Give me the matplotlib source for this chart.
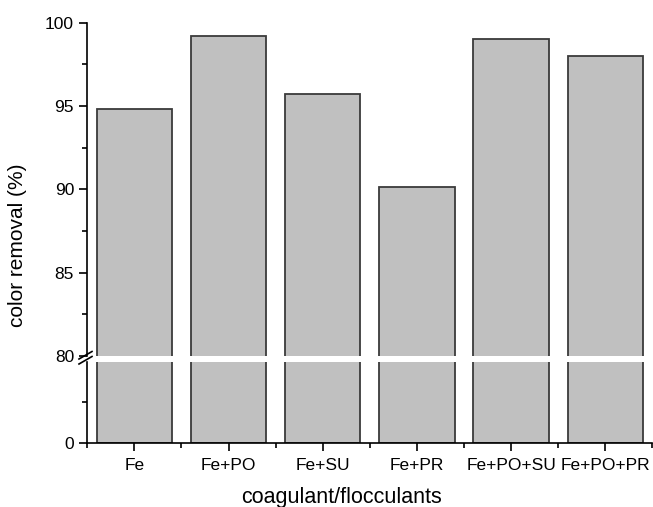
import matplotlib
matplotlib.use('Agg')
import matplotlib.pyplot as plt
from matplotlib.lines import Line2D
from matplotlib.ticker import MultipleLocator, FixedLocator

plt.rcParams['font.family'] = ['Liberation Sans', 'DejaVu Sans']

categories = ['Fe', 'Fe+PO', 'Fe+SU', 'Fe+PR', 'Fe+PO+SU', 'Fe+PO+PR']
color_removal = [94.8, 99.2, 95.7, 90.15, 99.05, 98.0]

W, H = 653, 507
fig = plt.figure(figsize=(W / 100, H / 100), dpi=100)

left, right = 87.3 / W, 652.4 / W
ax_top = fig.add_axes([left, (H - 356) / H, right - left, (356 - 22.7) / H])
ax_bot = fig.add_axes([left, (H - 442.7) / H, right - left, (442.7 - 362) / H])

x = list(range(len(categories)))
bar_kw = dict(width=0.8, color='#c0c0c0', edgecolor='#3a3a3a', linewidth=1.3)
for ax in (ax_top, ax_bot):
    ax.bar(x, color_removal, **bar_kw)
    ax.set_xlim(-0.5, 5.5)
    for s in ('top', 'right'):
        ax.spines[s].set_visible(False)
    ax.spines['left'].set_linewidth(1.2)
    ax.spines['bottom'].set_linewidth(1.2)
    ax.tick_params(which='major', direction='out', length=6, width=1.2,
                   labelsize=12.5, color='black')
    ax.tick_params(which='minor', direction='out', length=3.5, width=1.2)

# upper part 80-100
ax_top.set_ylim(80, 100)
ax_top.yaxis.set_major_locator(MultipleLocator(5))
ax_top.yaxis.set_minor_locator(MultipleLocator(2.5))
ax_top.spines['bottom'].set_visible(False)
ax_top.tick_params(axis='x', which='both', bottom=False, labelbottom=False)

# lower part 0-80
ax_bot.set_ylim(0, 80)
ax_bot.yaxis.set_major_locator(FixedLocator([0]))
ax_bot.yaxis.set_minor_locator(FixedLocator([40]))
ax_bot.set_xticks(x)
ax_bot.set_xticklabels(categories)
ax_bot.xaxis.set_minor_locator(FixedLocator([i + 0.5 for i in range(-1, 6)]))
ax_bot.tick_params(axis='x', pad=5)

# break marks on the y axis
for dy in (0, 5):
    y0 = (H - (364 - dy)) / H
    y1 = (H - (356.5 - dy)) / H
    fig.add_artist(Line2D([79 / W, 92 / W], [y0, y1], color='black',
                          linewidth=1.2, transform=fig.transFigure))

fig.text(18 / W, (H - 245) / H, 'color removal (%)', rotation=90,
         ha='center', va='center', fontsize=15)
fig.text(342 / W, (H - 497) / H, 'coagulant/flocculants',
         ha='center', va='center', fontsize=15.5)

fig.savefig('out.png', dpi=100)
